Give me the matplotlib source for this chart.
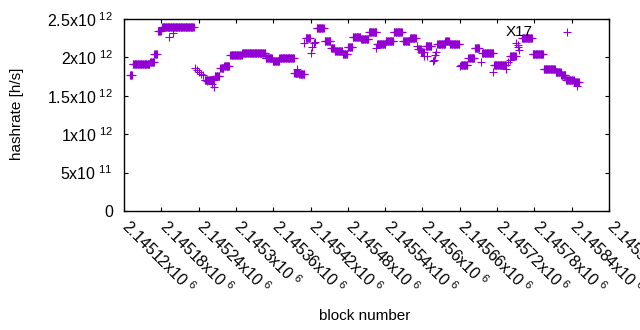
import numpy as np
import matplotlib
matplotlib.use("Agg")
import matplotlib.pyplot as plt
import matplotlib.transforms as mtransforms

plt.rcParams['font.family'] = ['Liberation Sans', 'DejaVu Sans']
plt.rcParams['mathtext.fontset'] = 'custom'
plt.rcParams['mathtext.rm'] = 'Liberation Sans'
plt.rcParams['mathtext.default'] = 'regular'

# runs of blocks sharing one hashrate estimate (first block, last block, hashrate in 1e12 h/s)
run_start = [2145130, 2145134, 2145162, 2145169, 2145175, 2145181, 2145201, 2145250,
             2145266, 2145275, 2145281, 2145291, 2145310, 2145348, 2145359, 2145370,
             2145394, 2145402, 2145412, 2145430, 2145443, 2145453, 2145459, 2145472,
             2145480, 2145488, 2145501, 2145514, 2145527, 2145541, 2145554, 2145569,
             2145580, 2145593, 2145598, 2145605, 2145624, 2145637, 2145644, 2145662,
             2145674, 2145684, 2145696, 2145715, 2145741, 2145760, 2145777, 2145795,
             2145814, 2145823, 2145831, 2145844]
run_end = [2145133, 2145161, 2145168, 2145173, 2145179, 2145200, 2145232, 2145264,
           2145273, 2145280, 2145289, 2145309, 2145347, 2145358, 2145369, 2145393,
           2145401, 2145410, 2145419, 2145441, 2145452, 2145458, 2145471, 2145479,
           2145487, 2145500, 2145513, 2145526, 2145540, 2145553, 2145567, 2145579,
           2145589, 2145597, 2145602, 2145614, 2145636, 2145643, 2145659, 2145672,
           2145683, 2145691, 2145714, 2145734, 2145750, 2145776, 2145794, 2145813,
           2145822, 2145830, 2145843, 2145851]
run_value = [1.77, 1.91, 1.935, 2.045, 2.34, 2.40, 2.39, 1.705,
             1.755, 1.86, 1.885, 2.035, 2.055, 1.99, 1.95, 1.99,
             1.795, 1.78, 2.25, 2.38, 2.21, 2.12, 2.08, 2.05,
             2.13, 2.26, 2.245, 2.325, 2.17, 2.21, 2.325, 2.21,
             2.25, 2.11, 2.075, 2.145, 2.175, 2.21, 2.17, 1.905,
             1.99, 2.12, 2.055, 1.895, 2.015, 2.255, 2.045, 1.85,
             1.81, 1.775, 1.70, 1.675]

# isolated blocks
single_block = [2145193, 2145199, 2145234, 2145237, 2145240, 2145244, 2145247,
                2145253, 2145262, 2145265, 2145399, 2145410, 2145421, 2145423,
                2145425, 2145427, 2145526, 2145592, 2145603, 2145608, 2145617,
                2145619, 2145620, 2145622, 2145661, 2145694, 2145714, 2145735,
                2145737, 2145740, 2145751, 2145753, 2145754, 2145756, 2145833,
                2145849]
single_value = [2.26, 2.32, 1.86, 1.83, 1.805, 1.785, 1.765,
                1.69, 1.66, 1.615, 1.85, 2.19, 2.06, 2.13,
                2.19, 2.20, 2.12, 2.145, 2.015, 2.015, 1.95,
                1.97, 2.03, 2.065, 1.885, 1.94, 1.81, 1.85,
                1.94, 1.965, 2.19, 2.13, 2.16, 2.09, 2.33,
                1.625]

xtick_vals = [2145120, 2145180, 2145240, 2145300, 2145360, 2145420, 2145480,
              2145540, 2145600, 2145660, 2145720, 2145780, 2145840, 2145900]
xtick_mant = ['2.14512', '2.14518', '2.14524', '2.1453', '2.14536', '2.14542', '2.14548',
              '2.14554', '2.1456', '2.14566', '2.14572', '2.14578', '2.14584', '2.1459']
ytick_vals = [0, 5e11, 1e12, 1.5e12, 2e12, 2.5e12]
ytick_mant = ['0', '5', '1', '1.5', '2', '2.5']
ytick_exp = ['', '11', '12', '12', '12', '12']

label_text = 'X17'
label_x = 2145755
label_y = 2.337e12

blocks = []
rates = []
for s, e, v in zip(run_start, run_end, run_value):
    for b in range(s, e + 1):
        blocks.append(b)
        rates.append(v * 1e12)
blocks += single_block
rates += [v * 1e12 for v in single_value]

fig = plt.figure(figsize=(6.4, 3.3), dpi=100)
ax = fig.add_axes([124 / 640, 1 - 211 / 330, (609 - 124) / 640, (211 - 19) / 330])

ax.plot(blocks, rates, linestyle='none', marker='+', color='#9400D3',
        markersize=5.2, markeredgewidth=0.8)

ax.set_xlim(xtick_vals[0], xtick_vals[-1])
ax.set_ylim(0, 2.5e12)

ax.set_xticks(xtick_vals)
ax.set_xticklabels([m + r'x10$^{\ 6}$' for m in xtick_mant],
                   rotation=-45, ha='left', va='top', rotation_mode='anchor')
ax.set_yticks(ytick_vals)
ax.set_yticklabels([m if not e else m + r'x10$^{\ ' + e + '}$' for m, e in zip(ytick_mant, ytick_exp)])

ax.tick_params(direction='in', top=True, right=True, length=2.6, width=0.8,
               labelsize=11.5, colors='black')
ax.tick_params(axis='y', pad=8)
ax.tick_params(axis='x', pad=4)
shift = mtransforms.ScaledTranslation(0.08, 0, fig.dpi_scale_trans)
for lab in ax.get_xticklabels():
    lab.set_transform(lab.get_transform() + shift)
for sp in ax.spines.values():
    sp.set_linewidth(1.0)

ax.text(label_x, label_y, label_text, fontsize=11, ha='center', va='center', color='black')

fig.text(17 / 640, 1 - 114 / 330, 'hashrate [h/s]', rotation=90, ha='center', va='center', fontsize=11)
fig.text(365 / 640, 1 - 316 / 330, 'block number', ha='center', va='center', fontsize=11)

fig.savefig('out.png', dpi=100)
